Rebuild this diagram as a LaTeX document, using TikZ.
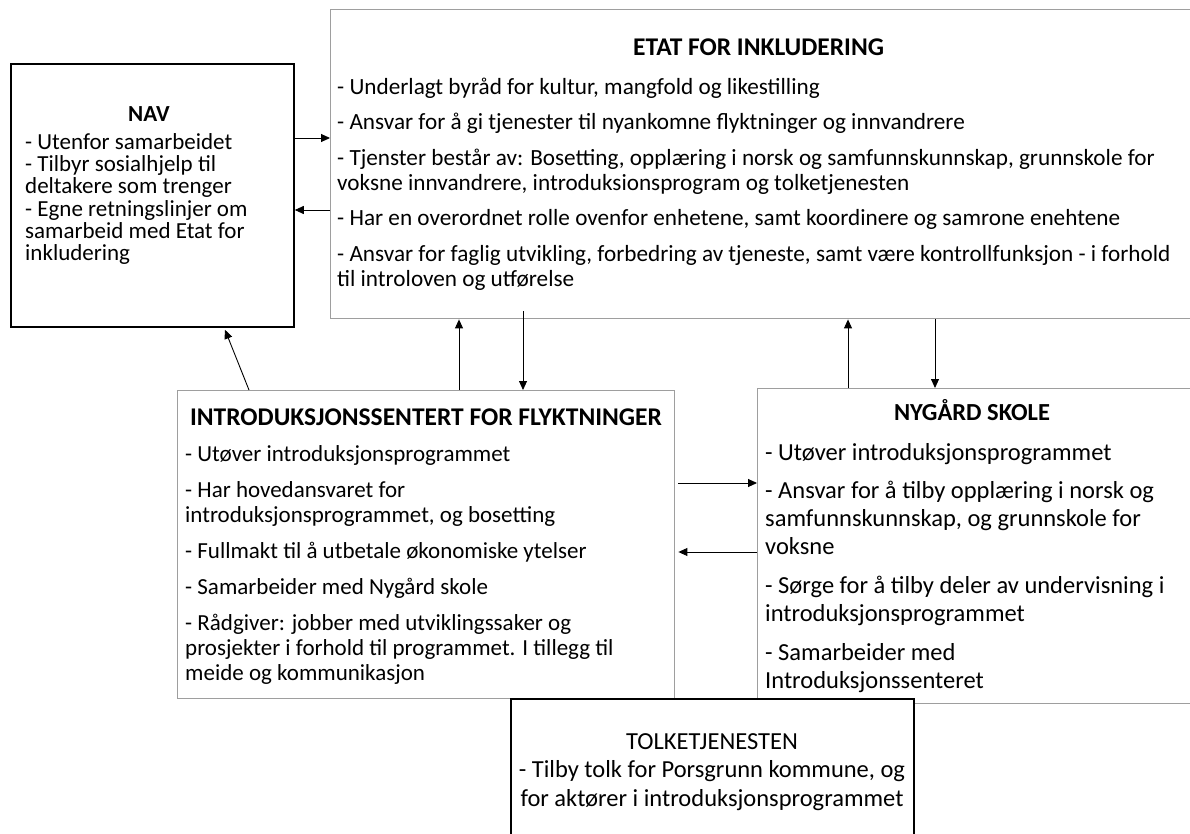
\documentclass[tikz,border=0pt]{standalone}
\usepackage{fontspec}
\setmainfont{Carlito}
\usetikzlibrary{arrows.meta}
\newcommand{\fl}{\rule{0pt}{20pt}}
\begin{document}
\begin{tikzpicture}[x=1pt,y=-1pt,
  graybox/.style={draw=black!38, line width=1.4pt, fill=white, inner sep=0, anchor=north west},
  blackbox/.style={draw=black, line width=1.8pt, fill=white, inner sep=0, anchor=north west},
  body/.style={anchor=north west, inner sep=0, align=left},
  ttl/.style={anchor=base, inner sep=0, font=\fontsize{23}{25}\selectfont\bfseries},
  bigttl/.style={ttl, font=\fontsize{25.5}{28}\selectfont\bfseries},
  conn/.style={line width=0.9pt, -{Triangle[length=9pt,width=8pt]}}
]
\useasboundingbox (0,0) rectangle (1190,834);
\clip (0,0) rectangle (1190,834);

% boxes
\node[graybox, minimum width=880pt, minimum height=309pt] (etat) at (330,9) {};
\node[blackbox, minimum width=283pt, minimum height=263pt] (nav) at (10,63) {};
\node[graybox, minimum width=497pt, minimum height=308pt] (intro) at (177,390) {};
\node[graybox, minimum width=450pt, minimum height=315pt] (nyg) at (757,388) {};
\node[blackbox, minimum width=403pt, minimum height=160pt] (tolk) at (510,698) {};

% Etat text
\node[bigttl, anchor=base west] (etatT) at (633,56) {ETAT FOR INKLUDERING};
\node[body, font=\fontsize{23.2}{25}\selectfont] (etatB) at (337,74) {\fl- Underlagt byråd for kultur, mangfold og likestilling\\[10pt]
- Ansvar for å gi tjenester til nyankomne flyktninger og innvandrere\\[11pt]
- Tjenster består av: Bosetting, opplæring i norsk og samfunnskunnskap, grunnskole for\\
voksne innvandrere, introduksionsprogram og tolketjenesten\\[10pt]
- Har en overordnet rolle ovenfor enhetene, samt koordinere og samrone enehtene\\[11pt]
- Ansvar for faglig utvikling, forbedring av tjeneste, samt være kontrollfunksjon - i forhold\\
til introloven og utførelse};

% NAV text
\node[ttl] (navT) at (149,122) {NAV};
\node[body, font=\fontsize{23}{22.3}\selectfont] (navB) at (25,129) {\fl- Utenfor samarbeidet\\
- Tilbyr sosialhjelp til\\
deltakere som trenger\\
- Egne retningslinjer om\\
samarbeid med Etat for\\
inkludering};

% Intro text
\node[bigttl] (introT) at (426,425) {INTRODUKSJONSSENTERT FOR FLYKTNINGER};
\node[body, font=\fontsize{23}{25}\selectfont] (introB) at (185,441) {\fl- Utøver introduksjonsprogrammet\\[11pt]
- Har hovedansvaret for\\
introduksjonsprogrammet, og bosetting\\[11pt]
- Fullmakt til å utbetale økonomiske ytelser\\[11pt]
- Samarbeider med Nygård skole\\[11pt]
- Rådgiver: jobber med utviklingssaker og\\
prosjekter i forhold til programmet. I tillegg til\\
meide og kommunikasjon};

% Nygard text
\node[ttl, font=\fontsize{24.5}{28}\selectfont\bfseries] (nygT) at (972,420) {NYGÅRD SKOLE};
\node[body, font=\fontsize{24.5}{28}\selectfont] (nygB) at (765,440) {\fl- Utøver introduksjonsprogrammet\\[10pt]
- Ansvar for å tilby opplæring i norsk og\\
samfunnskunnskap, og grunnskole for\\
voksne\\[11pt]
- Sørge for å tilby deler av undervisning i\\
introduksjonsprogrammet\\[11pt]
- Samarbeider med\\
Introduksjonssenteret};

% Tolk text
\node[anchor=north, inner sep=0, align=center, font=\fontsize{24.5}{28.5}\selectfont] (tolkB) at (712,729) {\fl TOLKETJENESTEN\\
- Tilby tolk for Porsgrunn kommune, og\\
for aktører i introduksjonsprogrammet};

% helper coordinates
\coordinate (y138) at (0,138);
\coordinate (y210) at (0,210);
\coordinate (y483) at (0,483);
\coordinate (y552) at (0,552);
\coordinate (x459) at (459,0);
\coordinate (x523) at (523,0);
\coordinate (x848) at (848,0);
\coordinate (x935) at (935,0);
\coordinate (x249) at (249,0);
\coordinate (x225) at (225,0);

% connectors
\draw[conn] (nav.east |- y138) -- (etat.west |- y138);
\draw[conn] (etat.west |- y210) -- (nav.east |- y210);
\draw[conn] (intro.north -| x249) -- ([yshift=-2pt]nav.south -| x225);
\draw[conn] (intro.north -| x459) -- (etat.south -| x459);
\draw[conn] ([yshift=8pt]etat.south -| x523) -- (intro.north -| x523);
\draw[conn] (nyg.north -| x848) -- (etat.south -| x848);
\draw[conn] (etat.south -| x935) -- (nyg.north -| x935);
\draw[conn] ([xshift=3pt]intro.east |- y483) -- (nyg.west |- y483);
\draw[conn] (nyg.west |- y552) -- ([xshift=3pt]intro.east |- y552);
\end{tikzpicture}
\end{document}
